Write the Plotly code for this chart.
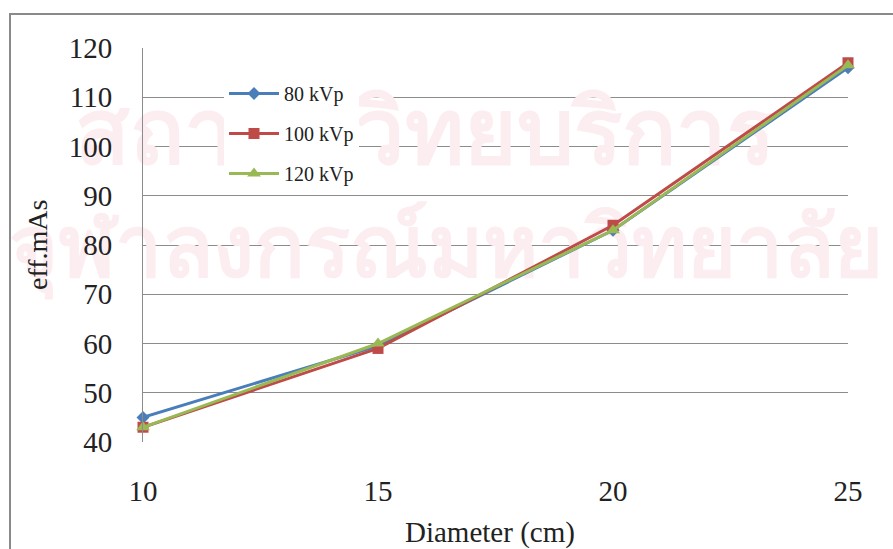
import plotly.graph_objects as go

diameter = [10, 15, 20, 25]
kvp80 = [45, 59.5, 83, 116]
kvp100 = [43, 59, 84, 117]
kvp120 = [43, 60, 83, 116.5]

y_ticks = [40, 50, 60, 70, 80, 90, 100, 110, 120]
x_ticks = [10, 15, 20, 25]

W, H = 893, 549
L, R, T, B = 143, 45, 48, 107
pw, ph = W - L - R, H - T - B

def px(x):
    return (x - L) / pw

def py(y):
    return (H - B - y) / ph

def dx(x):
    return 10 + (x - L) / pw * 15

def dy(y):
    return 40 + (H - B - y) / ph * 80

font = "Liberation Serif"

fig = go.Figure()

# faint institutional watermark, drawn first so it sits under the data
fig.add_trace(go.Scatter(
    x=[dx(425), dx(446)], y=[dy(140), dy(255)], mode="text",
    text=["สถาบันวิทยบริการ", "จุฬาลงกรณ์มหาวิทยาลัย"],
    textfont=dict(size=[90, 84], color="#fcedf0", weight="bold"),
    showlegend=False, hoverinfo="skip", cliponaxis=False,
))

series = [
    ("80 kVp", kvp80, "#4A7EBB", "diamond", 10),
    ("100 kVp", kvp100, "#BE4B48", "square", 11),
    ("120 kVp", kvp120, "#98B954", "triangle-up", 12),
]
for name, ys, col, sym, sz in series:
    fig.add_trace(go.Scatter(
        x=diameter, y=ys, name=name, legendgroup=name, mode="lines+markers",
        line=dict(color=col, width=3),
        marker=dict(symbol=sym, size=sz, color=col),
        cliponaxis=False,
    ))

# outer frame
fig.add_shape(type="line", xref="paper", yref="paper",
              x0=px(9), x1=px(W + 5), y0=py(14), y1=py(14),
              line=dict(color="#8a8a8a", width=2))
fig.add_shape(type="line", xref="paper", yref="paper",
              x0=px(10), x1=px(10), y0=py(14), y1=py(H + 5),
              line=dict(color="#8a8a8a", width=2))

fig.add_annotation(x=px(490), y=py(532), xref="paper", yref="paper",
                   xanchor="center", yanchor="middle",
                   text="Diameter (cm)", showarrow=False,
                   font=dict(family=font, size=29, color="#222"))
fig.add_annotation(x=px(37), y=py(245), xref="paper", yref="paper",
                   xanchor="center", yanchor="middle",
                   text="eff.mAs", showarrow=False, textangle=-90,
                   font=dict(family=font, size=28, color="#222"))

fig.update_layout(
    template="none",
    width=W, height=H,
    margin=dict(l=L, r=R, t=T, b=B),
    paper_bgcolor="white", plot_bgcolor="rgba(0,0,0,0)",
    font=dict(family=font, color="#222"),
    showlegend=True,
    legend=dict(
        x=px(224), y=py(74), xanchor="left", yanchor="top",
        bgcolor="white", font=dict(family=font, size=20, color="#222"),
        itemsizing="trace", tracegroupgap=11, itemwidth=50,
    ),
    xaxis=dict(
        range=[10, 25], tickvals=x_ticks, showgrid=False, zeroline=False,
        showline=False, ticks="", ticklabelstandoff=29,
        tickfont=dict(family=font, size=29, color="#222"),
    ),
    yaxis=dict(
        range=[40, 120], tickvals=y_ticks, showgrid=True,
        gridcolor="#8c8c8c", gridwidth=1, zeroline=False,
        showline=True, linecolor="#8c8c8c", linewidth=1, ticks="",
        ticklabelstandoff=24,
        tickfont=dict(family=font, size=29, color="#222"),
    ),
)

fig.write_html("out.html")
